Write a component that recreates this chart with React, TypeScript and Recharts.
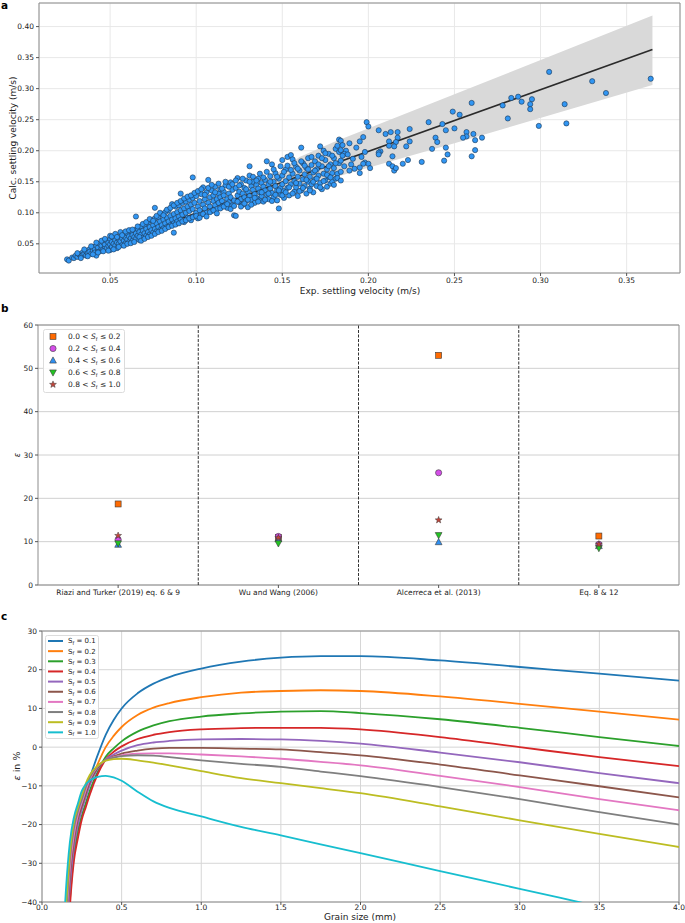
import React from 'react';
import {
  ComposedChart, ScatterChart, LineChart, Scatter, Line, Area, XAxis, YAxis,
  CartesianGrid, ReferenceArea, ReferenceLine, Legend,
} from 'recharts';

const FONT = '"DejaVu Sans", sans-serif';
const TICK = { fontSize: 7.5, fill: '#222', fontFamily: FONT };

// ---------------- Panel a data ----------------
const settlingPairs: [number, number][] = [
  [0.025,0.025],[0.026,0.023],[0.028,0.028],[0.029,0.027],[0.030,0.031],[0.031,0.029],[0.032,0.033],[0.033,0.030],
  [0.034,0.036],[0.034,0.032],[0.035,0.034],[0.036,0.038],[0.036,0.031],[0.037,0.035],[0.038,0.041],[0.038,0.037],
  [0.039,0.034],[0.040,0.045],[0.040,0.039],[0.041,0.042],[0.041,0.036],[0.042,0.031],[0.042,0.047],[0.043,0.040],
  [0.043,0.044],[0.044,0.038],[0.044,0.050],[0.045,0.043],[0.045,0.047],[0.046,0.041],[0.046,0.052],[0.047,0.045],
  [0.047,0.049],[0.048,0.043],[0.048,0.055],[0.049,0.047],[0.049,0.052],[0.050,0.040],[0.050,0.049],[0.050,0.058],
  [0.051,0.045],[0.051,0.053],[0.052,0.050],[0.052,0.060],[0.053,0.047],[0.053,0.056],[0.054,0.052],[0.054,0.043],
  [0.055,0.058],[0.055,0.050],[0.056,0.062],[0.056,0.054],[0.057,0.048],[0.057,0.059],[0.058,0.055],[0.058,0.065],
  [0.059,0.051],[0.059,0.060],[0.060,0.057],[0.060,0.067],[0.061,0.053],[0.061,0.062],[0.062,0.059],[0.062,0.070],
  [0.063,0.055],[0.063,0.064],[0.064,0.061],[0.064,0.072],[0.065,0.094],[0.065,0.058],[0.065,0.067],[0.066,0.063],
  [0.066,0.074],[0.067,0.056],[0.067,0.069],[0.068,0.065],[0.068,0.078],[0.069,0.060],[0.069,0.071],[0.070,0.067],
  [0.070,0.080],[0.071,0.063],[0.071,0.074],[0.072,0.069],[0.072,0.084],[0.073,0.065],[0.073,0.077],[0.074,0.072],
  [0.074,0.088],[0.075,0.068],[0.075,0.080],[0.076,0.108],[0.076,0.074],[0.076,0.091],[0.077,0.070],[0.077,0.083],
  [0.078,0.077],[0.078,0.093],[0.079,0.072],[0.079,0.086],[0.080,0.080],[0.080,0.098],[0.081,0.075],[0.081,0.089],
  [0.082,0.083],[0.082,0.101],[0.083,0.077],[0.083,0.092],[0.084,0.086],[0.084,0.104],[0.085,0.080],[0.085,0.095],
  [0.086,0.089],[0.086,0.114],[0.087,0.068],[0.087,0.083],[0.087,0.098],[0.088,0.091],[0.088,0.110],[0.089,0.086],
  [0.089,0.101],[0.090,0.094],[0.090,0.112],[0.091,0.131],[0.091,0.089],[0.091,0.104],[0.092,0.097],[0.092,0.116],
  [0.093,0.085],[0.093,0.107],[0.094,0.100],[0.094,0.118],[0.095,0.092],[0.095,0.110],[0.096,0.103],[0.096,0.121],
  [0.097,0.088],[0.097,0.113],[0.098,0.157],[0.098,0.106],[0.098,0.124],[0.099,0.094],[0.099,0.116],[0.100,0.100],
  [0.100,0.127],[0.101,0.091],[0.101,0.110],[0.102,0.119],[0.102,0.104],[0.103,0.130],[0.103,0.097],[0.104,0.113],
  [0.104,0.141],[0.105,0.107],[0.105,0.122],[0.106,0.100],[0.106,0.133],[0.107,0.153],[0.107,0.116],[0.108,0.110],
  [0.108,0.125],[0.109,0.103],[0.109,0.136],[0.110,0.119],[0.110,0.128],[0.111,0.142],[0.111,0.112],[0.112,0.122],
  [0.112,0.106],[0.113,0.131],[0.113,0.116],[0.114,0.125],[0.114,0.138],[0.115,0.110],[0.115,0.119],[0.116,0.134],
  [0.116,0.128],[0.117,0.113],[0.117,0.144],[0.118,0.122],[0.118,0.108],[0.119,0.131],[0.119,0.117],[0.120,0.149],
  [0.120,0.125],[0.121,0.112],[0.121,0.137],[0.122,0.096],[0.122,0.120],[0.123,0.095],[0.123,0.140],[0.124,0.156],
  [0.124,0.128],[0.125,0.117],[0.125,0.134],[0.126,0.122],[0.126,0.146],[0.127,0.113],[0.127,0.131],[0.128,0.125],
  [0.128,0.140],[0.129,0.119],[0.129,0.152],[0.130,0.109],[0.130,0.134],[0.131,0.175],[0.131,0.160],[0.131,0.127],
  [0.132,0.143],[0.132,0.121],[0.133,0.137],[0.133,0.150],[0.134,0.116],[0.134,0.130],[0.135,0.145],[0.135,0.124],
  [0.136,0.139],[0.136,0.155],[0.137,0.120],[0.137,0.133],[0.138,0.148],[0.138,0.127],[0.139,0.142],[0.139,0.118],
  [0.140,0.136],[0.140,0.153],[0.141,0.183],[0.141,0.129],[0.142,0.146],[0.142,0.122],[0.143,0.139],[0.143,0.159],
  [0.144,0.178],[0.144,0.132],[0.145,0.150],[0.145,0.125],[0.146,0.143],[0.146,0.164],[0.147,0.136],[0.147,0.120],
  [0.148,0.107],[0.148,0.155],[0.149,0.140],[0.149,0.129],[0.150,0.185],[0.150,0.160],[0.150,0.146],[0.151,0.124],
  [0.151,0.135],[0.152,0.151],[0.152,0.170],[0.153,0.190],[0.153,0.140],[0.154,0.157],[0.154,0.128],[0.155,0.193],
  [0.155,0.146],[0.156,0.186],[0.156,0.163],[0.157,0.134],[0.157,0.151],[0.158,0.174],[0.158,0.141],[0.159,0.158],
  [0.159,0.127],[0.160,0.147],[0.160,0.168],[0.161,0.205],[0.161,0.136],[0.162,0.154],[0.162,0.180],[0.163,0.143],
  [0.163,0.162],[0.164,0.131],[0.164,0.172],[0.165,0.150],[0.165,0.188],[0.166,0.139],[0.166,0.158],[0.167,0.177],
  [0.167,0.146],[0.168,0.165],[0.168,0.133],[0.169,0.154],[0.169,0.183],[0.170,0.143],[0.170,0.170],[0.171,0.160],
  [0.171,0.192],[0.172,0.207],[0.172,0.148],[0.173,0.175],[0.173,0.138],[0.174,0.200],[0.174,0.163],[0.175,0.152],
  [0.175,0.185],[0.176,0.142],[0.176,0.170],[0.177,0.158],[0.177,0.195],[0.178,0.147],[0.178,0.178],[0.179,0.164],
  [0.179,0.150],[0.180,0.188],[0.180,0.172],[0.181,0.155],[0.181,0.203],[0.182,0.208],[0.182,0.163],[0.183,0.218],
  [0.183,0.180],[0.184,0.216],[0.184,0.166],[0.184,0.184],
  // second layer of the dense cloud
  [0.031,0.035],[0.033,0.027],[0.035,0.041],[0.037,0.030],[0.039,0.046],[0.040,0.033],[0.042,0.052],[0.043,0.036],
  [0.045,0.055],[0.046,0.038],[0.047,0.058],[0.049,0.039],[0.050,0.063],[0.051,0.062],[0.052,0.041],[0.053,0.066],
  [0.054,0.061],[0.055,0.045],[0.056,0.069],[0.057,0.064],[0.058,0.047],[0.059,0.070],[0.060,0.050],[0.061,0.072],
  [0.062,0.051],[0.063,0.073],[0.064,0.053],[0.066,0.078],[0.067,0.061],[0.068,0.055],[0.069,0.082],[0.070,0.058],
  [0.071,0.085],[0.072,0.061],[0.073,0.090],[0.074,0.063],[0.075,0.087],[0.076,0.066],[0.077,0.095],[0.078,0.069],
  [0.079,0.100],[0.080,0.071],[0.081,0.096],[0.082,0.074],[0.083,0.105],[0.084,0.077],[0.085,0.108],[0.086,0.079],
  [0.087,0.112],[0.088,0.081],[0.089,0.116],[0.090,0.083],[0.091,0.119],[0.092,0.086],[0.093,0.123],[0.094,0.088],
  [0.095,0.126],[0.096,0.091],[0.097,0.128],[0.098,0.093],[0.099,0.132],[0.100,0.095],[0.101,0.135],[0.102,0.092],
  [0.103,0.138],[0.104,0.098],[0.105,0.129],[0.106,0.094],[0.107,0.140],[0.108,0.101],[0.109,0.145],[0.110,0.104],
  [0.111,0.133],[0.112,0.099],[0.113,0.147],[0.114,0.107],[0.115,0.139],[0.116,0.110],[0.117,0.150],[0.118,0.114],
  [0.119,0.142],[0.120,0.106],[0.121,0.146],[0.122,0.111],[0.123,0.152],[0.124,0.118],[0.125,0.144],[0.126,0.110],
  [0.127,0.155],[0.128,0.115],[0.129,0.138],[0.130,0.121],[0.131,0.150],[0.132,0.113],[0.133,0.158],[0.134,0.124],
  [0.135,0.152],[0.136,0.118],[0.137,0.163],[0.138,0.133],[0.139,0.157],[0.140,0.121],[0.141,0.166],[0.142,0.131],
  [0.143,0.150],[0.144,0.119],[0.145,0.170],[0.146,0.129],[0.147,0.158],[0.148,0.136],[0.149,0.175],[0.150,0.128],
  [0.151,0.166],[0.152,0.133],[0.153,0.176],[0.154,0.141],[0.155,0.169],[0.156,0.131],[0.157,0.180],[0.158,0.148],
  [0.159,0.171],[0.160,0.135],[0.161,0.183],[0.162,0.140],[0.163,0.176],[0.164,0.153],[0.165,0.170],[0.166,0.136],
  [0.167,0.190],[0.168,0.150],[0.169,0.168],[0.170,0.155],[0.171,0.178],[0.172,0.141],[0.173,0.188],[0.174,0.151],
  [0.175,0.196],[0.176,0.161],[0.177,0.175],[0.178,0.157],[0.179,0.192],[0.180,0.145],[0.181,0.180],[0.182,0.156],
  [0.183,0.198],[0.184,0.152],
  // sparse upper range
  [0.305,0.327],[0.330,0.312],[0.364,0.316],[0.338,0.293],[0.283,0.285],[0.287,0.287],[0.289,0.279],[0.278,0.273],
  [0.281,0.252],[0.295,0.283],[0.294,0.275],[0.294,0.267],[0.314,0.275],[0.299,0.240],[0.315,0.244],[0.260,0.277],
  [0.249,0.263],[0.253,0.258],[0.235,0.246],[0.243,0.243],[0.245,0.233],[0.250,0.236],[0.257,0.230],[0.257,0.223],
  [0.255,0.221],[0.261,0.227],[0.262,0.217],[0.266,0.221],[0.262,0.201],[0.260,0.191],[0.239,0.221],[0.240,0.214],
  [0.237,0.203],[0.245,0.205],[0.246,0.194],[0.244,0.184],[0.231,0.182],[0.223,0.185],[0.220,0.179],[0.224,0.235],
  [0.222,0.207],[0.224,0.215],[0.210,0.227],[0.206,0.233],[0.199,0.246],[0.200,0.239],[0.213,0.230],[0.217,0.230],
  [0.217,0.221],[0.216,0.214],[0.212,0.215],[0.212,0.208],[0.215,0.207],[0.214,0.191],[0.212,0.179],[0.214,0.175],
  [0.215,0.168],[0.216,0.172],[0.207,0.199],[0.206,0.197],[0.206,0.194],[0.198,0.198],[0.198,0.181],[0.200,0.179],
  [0.201,0.172],[0.197,0.179],[0.195,0.215],[0.197,0.222],[0.195,0.173],[0.195,0.164],[0.192,0.171],[0.190,0.178],
  [0.189,0.168],[0.187,0.200],[0.186,0.195],[0.188,0.194],[0.185,0.192],[0.184,0.201],[0.186,0.175],[0.185,0.209],
  [0.191,0.187],[0.193,0.205],[0.189,0.212],[0.196,0.190],
];
const fitX = [0.025, 0.365];
const fitY = [0.025, 0.363];
const bandX = [0.135, 0.145, 0.16, 0.18, 0.25, 0.365];
const bandLow = [0.134, 0.137, 0.145, 0.157, 0.212, 0.306];
const bandHigh = [0.135, 0.160, 0.190, 0.214, 0.291, 0.418];
const aTicksX = [0.05, 0.1, 0.15, 0.2, 0.25, 0.3, 0.35];
const aTicksY = [0.05, 0.1, 0.15, 0.2, 0.25, 0.3, 0.35, 0.4];

// ---------------- Panel b data ----------------
const methods = ['Riazi and Turker (2019) eq. 6 & 9', 'Wu and Wang (2006)', 'Alcerreca et al. (2013)', 'Eq. 8 & 12'];
const sf0to02 = [18.7, 11.0, 53.0, 11.3];
const sf02to04 = [10.5, 11.2, 25.9, 9.4];
const sf04to06 = [9.3, 10.6, 9.9, 9.0];
const sf06to08 = [9.6, 9.6, 11.5, 8.5];
const sf08to10 = [11.4, 10.9, 15.0, 9.4];
const bRanges = [['0.0', '0.2'], ['0.2', '0.4'], ['0.4', '0.6'], ['0.6', '0.8'], ['0.8', '1.0']];
const bTicksY = [0, 10, 20, 30, 40, 50, 60];

// ---------------- Panel c data ----------------
const grainSize = [0.12, 0.15, 0.175, 0.2, 0.225, 0.25, 0.275, 0.3, 0.35, 0.4, 0.45, 0.5, 0.6, 0.7, 0.8, 1.0, 1.25, 1.5, 1.75, 2.0, 2.5, 3.0, 3.5, 4.0];
const errSf01 = [-80, -50, -34, -23.3, -17.6, -14.0, -10.9, -7.9, -2.0, 3.2, 7.0, 10.0, 13.9, 16.4, 18.1, 20.3, 22.1, 23.1, 23.5, 23.5, 22.4, 20.7, 19.0, 17.2];
const errSf02 = [-82, -52, -35, -24.6, -18.8, -15.2, -12.1, -9.2, -4.3, 0.0, 2.9, 5.2, 8.3, 10.2, 11.4, 12.9, 14.1, 14.5, 14.7, 14.5, 13.1, 11.2, 9.2, 7.1];
const errSf03 = [-88, -58, -39.5, -28.2, -21.8, -17.7, -14.5, -11.3, -6.4, -2.5, -0.3, 1.5, 4.0, 5.6, 6.7, 7.9, 8.7, 9.2, 9.3, 8.8, 7.2, 5.0, 2.6, 0.3];
const errSf04 = [-90, -62, -41.5, -29.5, -23.6, -18.7, -15.5, -12.3, -7.0, -3.2, -1.2, 0.2, 2.1, 3.2, 3.9, 4.6, 4.9, 5.0, 5.0, 4.6, 2.6, 0.0, -2.6, -4.9];
const errSf05 = [-85, -54, -36, -26, -20.2, -16.2, -13.0, -9.8, -5.6, -3.2, -1.9, -0.9, 0.5, 1.2, 1.6, 2.0, 2.1, 2.0, 1.6, 0.9, -1.4, -3.9, -6.7, -9.3];
const errSf06 = [-82, -51, -33.5, -24.2, -18.6, -15.2, -12.0, -9.0, -5.3, -3.4, -2.4, -1.7, -0.9, -0.4, -0.2, -0.2, -0.4, -0.6, -1.3, -2.1, -4.5, -7.3, -10.1, -13.0];
const errSf07 = [-80, -48, -31.5, -22.8, -17.6, -14.3, -11.1, -8.3, -5.0, -3.4, -2.6, -2.1, -1.7, -1.6, -1.6, -1.9, -2.4, -3.0, -3.8, -4.7, -7.4, -10.3, -13.4, -16.3];
const errSf08 = [-78, -45, -29.2, -21.0, -16.6, -13.5, -10.3, -7.8, -4.9, -3.3, -2.7, -2.3, -2.1, -2.2, -2.6, -3.4, -4.3, -5.1, -6.3, -7.5, -10.3, -13.4, -16.8, -20.0];
const errSf09 = [-75, -42, -27.5, -19.4, -15.6, -12.4, -9.4, -7.2, -4.8, -3.5, -3.1, -3.0, -3.4, -4.0, -4.7, -6.2, -8.0, -9.3, -10.6, -11.9, -15.3, -18.9, -22.4, -25.8];
const errSf10 = [-62, -37, -24.5, -18.2, -14.6, -11.3, -9.6, -8.6, -7.7, -7.4, -7.8, -8.7, -11.5, -14.0, -15.7, -17.9, -20.6, -22.8, -25.1, -27.4, -32.0, -36.6, -41.2, -45.8];
const cSeries = [errSf01, errSf02, errSf03, errSf04, errSf05, errSf06, errSf07, errSf08, errSf09, errSf10];
const cLabels = ['0.1', '0.2', '0.3', '0.4', '0.5', '0.6', '0.7', '0.8', '0.9', '1.0'];
const cColors = ['#1f77b4', '#ff7f0e', '#2ca02c', '#d62728', '#9467bd', '#8c564b', '#e377c2', '#7f7f7f', '#bcbd22', '#17becf'];
const cTicksX = [0, 0.5, 1, 1.5, 2, 2.5, 3, 3.5, 4];
const cTicksY = [-40, -30, -20, -10, 0, 10, 20, 30];

// ---------------- markers ----------------
const EDGE = '#3a3a3a';
function marker(kind: string, cx: number, cy: number) {
  if (kind === 'square') return <rect x={cx - 3} y={cy - 3} width={6} height={6} fill="#ff6a00" stroke={EDGE} strokeWidth={0.6} />;
  if (kind === 'circle') return <circle cx={cx} cy={cy} r={3.1} fill="#d44ee8" stroke={EDGE} strokeWidth={0.6} />;
  if (kind === 'up') return <polygon points={`${cx},${cy - 3.6} ${cx + 3.4},${cy + 2.6} ${cx - 3.4},${cy + 2.6}`} fill="#2f8ff0" stroke={EDGE} strokeWidth={0.6} />;
  if (kind === 'down') return <polygon points={`${cx},${cy + 3.6} ${cx + 3.4},${cy - 2.6} ${cx - 3.4},${cy - 2.6}`} fill="#22c422" stroke={EDGE} strokeWidth={0.6} />;
  const pts: string[] = [];
  for (let k = 0; k < 10; k++) {
    const r = k % 2 === 0 ? 3.6 : 1.5;
    const a = -Math.PI / 2 + (k * Math.PI) / 5;
    pts.push(`${cx + r * Math.cos(a)},${cy + r * Math.sin(a)}`);
  }
  return <polygon points={pts.join(' ')} fill="#c0453a" stroke={EDGE} strokeWidth={0.5} />;
}
const bKinds = ['square', 'circle', 'up', 'down', 'star'];
const bSeries = [sf0to02, sf02to04, sf04to06, sf06to08, sf08to10];

const FRAME = '#8c8c8c';

function PanelA() {
  const pts = settlingPairs.map(([x, y]) => ({ x, y }));
  const band = bandX.map((x, i) => ({ x, range: [bandLow[i], bandHigh[i]] }));
  const fit = fitX.map((x, i) => ({ x, y: fitY[i] }));
  const xd: [number, number] = [0.0087, 0.381];
  const yd: [number, number] = [0.003, 0.438];
  return (
    <div style={{ position: 'absolute', left: 0, top: 0 }}>
      <ComposedChart width={685} height={300} margin={{ top: 3, right: 5, left: 0, bottom: 0 }}>
        <CartesianGrid stroke="#e8e8e8" strokeWidth={1} />
        <XAxis type="number" dataKey="x" domain={xd} allowDataOverflow ticks={aTicksX}
          tickFormatter={(v: number) => v.toFixed(2)} height={27} tick={TICK} tickSize={3}
          tickLine={{ stroke: '#555' }} axisLine={false} />
        <YAxis type="number" domain={yd} allowDataOverflow ticks={aTicksY} width={39}
          tickFormatter={(v: number) => v.toFixed(2)} tick={TICK} tickSize={3}
          tickLine={{ stroke: '#555' }} axisLine={false} />
        <Area data={band} dataKey="range" type="linear" stroke="none" fill="#d9d9d9" fillOpacity={1}
          isAnimationActive={false} activeDot={false} />
        <Scatter data={pts} dataKey="y" isAnimationActive={false}
          shape={(p: any) => <circle cx={p.cx} cy={p.cy} r={2.6} fill="#3196f3" stroke="#1d3550" strokeWidth={0.6} />} />
        <Line data={fit} dataKey="y" type="linear" stroke="#2b2b2b" strokeWidth={1.7} dot={false}
          activeDot={false} isAnimationActive={false} />
        <ReferenceArea x1={xd[0]} x2={xd[1]} y1={yd[0]} y2={yd[1]} fill="none" stroke={FRAME} strokeWidth={1} ifOverflow="visible" />
      </ComposedChart>
    </div>
  );
}

function LegendB() {
  return (
    <svg width={84} height={65} style={{ display: 'block' }}>
      <rect x={0.5} y={0.5} width={81} height={63} rx={2} fill="#fff" fillOpacity={0.9} stroke="#dcdcdc" />
      {bRanges.map((r, i) => (
        <g key={i}>
          {marker(bKinds[i], 10, 7.5 + i * 12)}
          <text x={25} y={7.5 + i * 12} dy="0.35em" fontSize={7.5} fontFamily={FONT} fill="#222">
            {r[0]} &lt; <tspan fontStyle="italic">S</tspan><tspan fontSize={5} dy={1.5}>f</tspan><tspan dy={-1.5}> ≤ {r[1]}</tspan>
          </text>
        </g>
      ))}
    </svg>
  );
}

function PanelB() {
  const yd: [number, number] = [0, 60];
  const xd: [number, number] = [-0.5, 3.5];
  return (
    <div style={{ position: 'absolute', left: 0, top: 310 }}>
      <ScatterChart width={685} height={300} margin={{ top: 15, right: 6, left: 0, bottom: 0 }}>
        <CartesianGrid vertical={false} stroke="#d0d0d0" strokeWidth={1} />
        <XAxis type="number" dataKey="x" domain={xd} allowDataOverflow ticks={[0, 1, 2, 3]}
          tickFormatter={(v: number) => methods[v]} height={25} tick={TICK} tickSize={3}
          tickLine={{ stroke: '#555' }} axisLine={false} interval={0} />
        <YAxis type="number" dataKey="y" domain={yd} allowDataOverflow ticks={bTicksY} width={38}
          tick={TICK} tickSize={3} tickLine={{ stroke: '#555' }} axisLine={false} />
        {[0.5, 1.5, 2.5].map((x) => (
          <ReferenceLine key={x} x={x} stroke="#333" strokeDasharray="3 1.5" strokeWidth={1} />
        ))}
        {bSeries.map((vals, si) => (
          <Scatter key={si} data={vals.map((y, i) => ({ x: i, y }))} dataKey="y" isAnimationActive={false}
            shape={(p: any) => marker(bKinds[si], p.cx, p.cy)} />
        ))}
        <Legend layout="horizontal" verticalAlign="middle" align="center" content={() => <LegendB />}
          wrapperStyle={{ left: 43, top: 19, width: 84, height: 65 }} />
        <ReferenceArea x1={xd[0]} x2={xd[1]} y1={yd[0]} y2={yd[1]} fill="none" stroke={FRAME} strokeWidth={1} ifOverflow="visible" />
      </ScatterChart>
    </div>
  );
}

function LegendC() {
  return (
    <svg width={56} height={106} style={{ display: 'block' }}>
      <rect x={0.5} y={0.5} width={53} height={103} rx={2} fill="#fff" fillOpacity={0.9} stroke="#dcdcdc" />
      {cLabels.map((l, i) => (
        <g key={i}>
          <line x1={3} x2={18} y1={6 + i * 10.15} y2={6 + i * 10.15} stroke={cColors[i]} strokeWidth={2} />
          <text x={23} y={6 + i * 10.15} dy="0.35em" fontSize={7} fontFamily={FONT} fill="#222">
            S<tspan fontSize={4.8} dy={1.5}>f</tspan><tspan dy={-1.5}> = {l}</tspan>
          </text>
        </g>
      ))}
    </svg>
  );
}

function PanelC() {
  const rows = grainSize.map((x, i) => {
    const r: any = { x };
    cSeries.forEach((s, k) => { r['s' + k] = s[i]; });
    return r;
  });
  const xd: [number, number] = [0, 4];
  const yd: [number, number] = [-40, 30];
  return (
    <div style={{ position: 'absolute', left: 0, top: 620 }}>
      <LineChart width={685} height={303} data={rows} margin={{ top: 11, right: 6, left: 0, bottom: 0 }}>
        <CartesianGrid stroke="#d6d6d6" strokeWidth={1} />
        <XAxis type="number" dataKey="x" domain={xd} allowDataOverflow ticks={cTicksX}
          tickFormatter={(v: number) => v.toFixed(1)} height={21} tick={TICK} tickSize={3} tickMargin={0}
          tickLine={{ stroke: '#555' }} axisLine={false} />
        <YAxis type="number" domain={yd} allowDataOverflow ticks={cTicksY} width={42}
          tickFormatter={(v: number) => String(v).replace('-', '\u2212')} tick={TICK} tickSize={3}
          tickLine={{ stroke: '#555' }} axisLine={false} />
        {cSeries.map((_, k) => (
          <Line key={k} dataKey={'s' + k} type="monotone" stroke={cColors[k]} strokeWidth={1.8}
            dot={false} activeDot={false} isAnimationActive={false} />
        ))}
        <Legend layout="horizontal" verticalAlign="middle" align="center" content={() => <LegendC />}
          wrapperStyle={{ left: 45, top: 15, width: 56, height: 106 }} />
        <ReferenceArea x1={xd[0]} x2={xd[1]} y1={yd[0]} y2={yd[1]} fill="none" stroke={FRAME} strokeWidth={1} ifOverflow="visible" />
      </LineChart>
    </div>
  );
}

function Titles() {
  const t = { fontFamily: FONT, fill: '#222' } as const;
  return (
    <svg width={685} height={923} style={{ position: 'absolute', left: 0, top: 0, pointerEvents: 'none' }}>
      <text x={1} y={9} fontSize={10.5} fontWeight="bold" {...t} fill="#000">a</text>
      <text x={1} y={312} fontSize={10.5} fontWeight="bold" {...t} fill="#000">b</text>
      <text x={1} y={620} fontSize={10.5} fontWeight="bold" {...t} fill="#000">c</text>
      <text x={360} y={294} fontSize={9} textAnchor="middle" {...t}>Exp. settling velocity (m/s)</text>
      <text x={16} y={138} fontSize={9} textAnchor="middle" transform="rotate(-90 16 138)" {...t}>Calc. settling velocity (m/s)</text>
      <text x={20} y={455} fontSize={8} textAnchor="middle" fontStyle="italic" transform="rotate(-90 20 455)" {...t}>ε</text>
      <text x={20} y={766} fontSize={9.5} textAnchor="middle" transform="rotate(-90 20 766)" {...t}>
        <tspan fontStyle="italic">ε</tspan> in %
      </text>
      <text x={360} y={920} fontSize={9} textAnchor="middle" {...t}>Grain size (mm)</text>
    </svg>
  );
}

export default function App() {
  return (
    <div style={{ position: 'absolute', left: 0, top: 0, width: 685, height: 923, background: '#fff', overflow: 'hidden' }}>
      <PanelA />
      <PanelB />
      <PanelC />
      <Titles />
    </div>
  );
}
